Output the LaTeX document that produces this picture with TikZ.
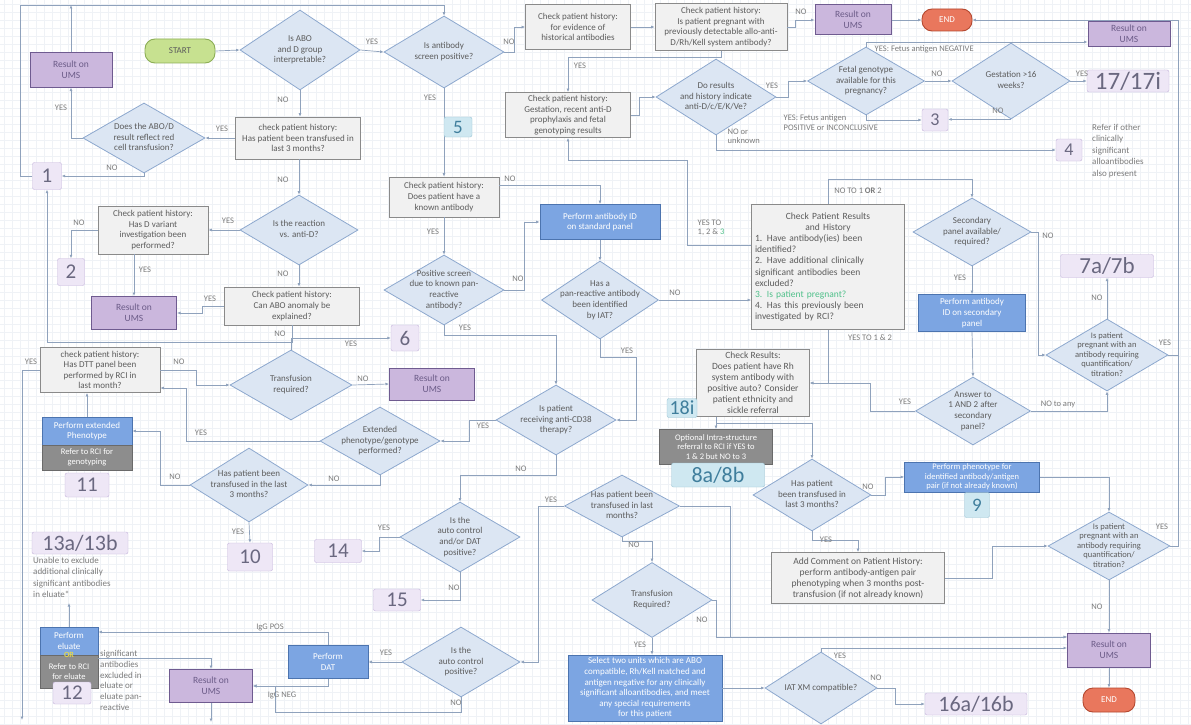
\documentclass[tikz,border=0pt]{standalone}
\usepackage{fontspec}
\setmainfont{Carlito}
\usetikzlibrary{shapes.geometric,arrows.meta}

\definecolor{decfill}{HTML}{DCE6F3}
\definecolor{decline}{HTML}{8DA8CE}
\definecolor{procfill}{HTML}{F1F1F1}
\definecolor{procline}{HTML}{8A8A8A}
\definecolor{umsfill}{HTML}{CBB7DD}
\definecolor{umsline}{HTML}{6F5B90}
\definecolor{umstext}{HTML}{6C5C88}
\definecolor{actfill}{HTML}{7CA5E2}
\definecolor{actline}{HTML}{4C74AF}
\definecolor{reffill}{HTML}{8D8D8D}
\definecolor{refline}{HTML}{6A6A6A}
\definecolor{tagfill}{HTML}{EEE7F6}
\definecolor{tagline}{HTML}{C4B3DB}
\definecolor{tagtext}{HTML}{6A6880}
\definecolor{cyanfill}{HTML}{CFE8F1}
\definecolor{cyanline}{HTML}{9CC5D5}
\definecolor{cyantext}{HTML}{3F7E9C}
\definecolor{startfill}{HTML}{C7E190}
\definecolor{startline}{HTML}{8CAE55}
\definecolor{endfill}{HTML}{E9775D}
\definecolor{endline}{HTML}{B4482F}
\definecolor{link}{HTML}{8FA2BC}
\definecolor{txt}{HTML}{5C5C5C}
\definecolor{lbltxt}{HTML}{7C7C7C}
\definecolor{gridc}{HTML}{EFF2F6}
\definecolor{okgreen}{HTML}{4FC08A}
\definecolor{oryel}{HTML}{E6D94B}

\newcommand{\dtxt}[1]{\makebox[0pt]{\raisebox{-2.3pt}[0pt][0pt]{\begin{tabular}{@{}c@{}}#1\end{tabular}}}}

\tikzset{
  every node/.style={font=\fontsize{9}{10.6}\selectfont, text=txt},
  wh/.style 2 args={minimum width=#1pt, minimum height=#2pt},
  dec/.style={diamond, draw=decline, fill=decfill, line width=0.8pt, inner sep=0pt},
  proc/.style={rectangle, draw=procline, fill=procfill, line width=0.8pt, align=center, inner sep=1pt},
  ums/.style={rectangle, draw=umsline, fill=umsfill, line width=1pt, align=center, text=umstext, font=\fontsize{9.5}{11}\selectfont},
  act/.style={rectangle, draw=actline, fill=actfill, line width=0.8pt, align=center, text=white, inner sep=1pt},
  refer/.style={rectangle, draw=refline, fill=reffill, line width=0.8pt, align=center, text=white, inner sep=1pt},
  tag/.style={rectangle, rounded corners=2pt, draw=tagline, fill=tagfill, text=tagtext, inner sep=0pt, font=\fontsize{21}{21}\selectfont},
  cyantag/.style={rectangle, rounded corners=2pt, draw=cyanline, fill=cyanfill, text=cyantext, inner sep=0pt, font=\fontsize{19}{19}\selectfont},
  term/.style={rectangle, rounded corners=10pt, line width=0.9pt, font=\fontsize{9}{10}\selectfont},
  lbl/.style={font=\fontsize{8.5}{9.5}\selectfont, text=lbltxt, inner sep=0.5pt},
  note/.style={align=left, text=lbltxt, inner sep=0pt, anchor=north west, font=\fontsize{9}{11.5}\selectfont},
  ln/.style={draw=link, line width=0.7pt},
  arr/.style={ln, -{Latex[length=3.5pt,width=3pt]}},
}

\begin{document}
\begin{tikzpicture}[x=1pt,y=-1pt]
	\useasboundingbox (0,0) rectangle (1191,725);
	\fill[white] (0,0) rectangle (1191,725);
	\foreach \g in {4,12,...,1188} \draw[gridc, line width=0.4pt] (\g,0) -- (\g,725);
	\foreach \g in {4,12,...,724} \draw[gridc, line width=0.4pt] (0,\g) -- (1191,\g);

	% terminals
	\node[term, draw=startline, fill=startfill, wh={70}{24}] (start) at (180,51) {START};
	\node[term, draw=endline, fill=endfill, text=white, wh={50}{22}] (end1) at (947,20) {END};
	\node[term, draw=endline, fill=endfill, text=white, wh={52}{24}] (end2) at (1109,700) {END};

	% decisions
	\node[dec, wh={120}{80}] (d1) at (300,50) {\dtxt{Is ABO\\and D group\\interpretable?}};
	\node[dec, wh={120}{72}] (d2) at (444,52) {\dtxt{Is antibody\\screen positive?}};
	\node[dec, wh={122}{70}] (d3) at (144,138) {\dtxt{Does the ABO/D\\result reflect red\\cell transfusion?}};
	\node[dec, wh={118}{70}] (d4) at (299,230) {\dtxt{Is the reaction\\vs. anti-D?}};
	\node[dec, wh={120}{70}] (dpos) at (444,290) {\dtxt{Positive screen\\due to known pan-\\reactive\\antibody?}};
	\node[dec, wh={120}{76}] (danti) at (716,97) {\dtxt{Do results\\and history indicate\\anti-D/c/E/K/Ve?}};
	\node[dec, wh={117}{68}] (dfetal) at (866,81) {\dtxt{Fetal genotype\\available for this\\pregnancy?}};
	\node[dec, wh={118}{76}] (dgest) at (1011,81) {\dtxt{Gestation >16\\weeks?}};
	\node[dec, wh={117}{78}] (dpan) at (600,300) {\dtxt{Has a\\pan-reactive antibody\\been identified\\by IAT?}};
	\node[dec, wh={118}{68}] (dsec) at (972,232) {\dtxt{Secondary\\panel available/\\required?}};
	\node[dec, wh={122}{72}, font=\fontsize{8.5}{9.6}\selectfont] (dq1) at (1107,355) {\dtxt{Is patient\\pregnant with an\\antibody requiring\\quantification/\\titration?}};
	\node[dec, wh={115}{68}] (dans) at (973,411) {\dtxt{Answer to\\1 AND 2 after\\secondary\\panel?}};
	\node[dec, wh={122}{70}] (d5) at (291,385) {\dtxt{Transfusion\\required?}};
	\node[dec, wh={120}{68}] (d6) at (380,441) {\dtxt{Extended\\phenotype/genotype\\performed?}};
	\node[dec, wh={120}{70}] (d8) at (556,420) {\dtxt{Is patient\\receiving anti-CD38\\therapy?}};
	\node[dec, wh={118}{74}] (d7) at (249,485) {\dtxt{Has patient been\\transfused in the last\\3 months?}};
	\node[dec, wh={120}{70}] (d9) at (460,537) {\dtxt{Is the\\auto control\\and/or DAT\\positive?}};
	\node[dec, wh={118}{70}] (d10) at (461,662) {\dtxt{Is the\\auto control\\positive?}};
	\node[dec, wh={115}{62}] (d11) at (622,506) {\dtxt{Has patient been\\transfused in last\\months?}};
	\node[dec, wh={120}{75}] (d12) at (652,600) {\dtxt{Transfusion\\Required?}};
	\node[dec, wh={112}{72}] (d13) at (821,688) {\dtxt{IAT XM compatible?}};
	\node[dec, wh={118}{72}] (d15) at (812,495) {\dtxt{Has patient\\been transfused in\\last 3 months?}};
	\node[dec, wh={122}{68}, font=\fontsize{8.5}{9.6}\selectfont] (d14) at (1109,546) {\dtxt{Is patient\\pregnant with an\\antibody requiring\\quantification/\\titration?}};

	% checks
	\node[proc, wh={125}{42}] (transf) at (298,138) {check patient history:\\Has patient been transfused in\\last 3 months?};
	\node[proc, wh={110}{48}] (variant) at (153,230) {Check patient history:\\Has D variant\\investigation been\\performed?};
	\node[proc, wh={135}{38}] (abo) at (292,306) {Check patient history:\\Can ABO anomaly be\\explained?};
	\node[proc, wh={120}{45}] (dtt) at (100,370) {check patient history:\\Has DTT panel been\\performed by RCI in\\last month?};
	\node[proc, wh={110}{40}] (known) at (444,197) {Check patient history:\\Does patient have a\\known antibody};
	\node[proc, wh={105}{45}] (hist) at (578,27) {Check patient history:\\for evidence of\\historical antibodies};
	\node[proc, wh={132}{47}] (preg) at (721,27) {Check patient history:\\Is patient pregnant with\\previously detectable allo-anti-\\D/Rh/Kell system antibody?};
	\node[proc, wh={125}{45}] (gest) at (568,115) {Check patient history:\\Gestation, recent anti-D\\prophylaxis and fetal\\genotyping results};
	\node[proc, wh={153}{125}, align=left, text width=146pt, font=\fontsize{9.5}{11.2}\selectfont] (results) at (828,267)
		{\makebox[146pt]{Check Patient Results}\\\makebox[146pt]{and History}\\1. Have antibody(ies) been\\identified?\\2. Have additional clinically\\significant antibodies been\\excluded?\\\textcolor{okgreen}{3. Is patient pregnant?}\\4. Has this previously been\\investigated by RCI?};
	\node[proc, wh={113}{67}, font=\fontsize{9.5}{11}\selectfont] (checkres) at (753,383) {Check Results:\\Does patient have Rh\\system antibody with\\positive auto? Consider\\patient ethnicity and\\sickle referral};
	\node[proc, wh={173}{51}, font=\fontsize{9.5}{11}\selectfont] (comment) at (858,578) {Add Comment on Patient History:\\perform antibody-antigen pair\\phenotyping when 3 months post-\\transfusion (if not already known)};

	% results on UMS
	\node[ums, wh={82}{34}] (res1) at (71,70) {Result on\\UMS};
	\node[ums, wh={76}{30}] (restop) at (853,20) {Result on\\UMS};
	\node[ums, wh={82}{25}] (restr) at (1129,34) {Result on\\UMS};
	\node[ums, wh={85}{33}] (res2) at (134,313) {Result on\\UMS};
	\node[ums, wh={85}{32}] (res3) at (432,384) {Result on\\UMS};
	\node[ums, wh={83}{33}] (res4) at (211,686) {Result on\\UMS};
	\node[ums, wh={83}{34}] (res5) at (1109,650) {Result on\\UMS};

	% actions
	\node[act, wh={120}{35}] (abid) at (600,222) {Perform antibody ID\\on standard panel};
	\node[act, wh={107}{37}] (absec) at (972,313) {Perform antibody\\ID on secondary\\panel};
	\node[act, wh={135}{30}, font=\fontsize{8.5}{9.5}\selectfont] (phen) at (972,477) {Perform phenotype for\\identified antibody/antigen\\pair (if not already known)};
	\node[act, wh={90}{28}] (extph) at (87,431) {Perform extended\\Phenotype};
	\node[act, wh={80}{33}] (dat) at (328,662) {Perform\\DAT};
	\node[act, wh={58}{28}] (elu) at (69,641) {Perform\\eluate};
	\node[act, wh={154}{66}] (select) at (645,688) {Select two units which are ABO\\compatible, Rh/Kell matched and\\antigen negative for any clinically\\significant alloantibodies, and meet\\any special requirements\\for this patient};

	% referrals
	\node[refer, wh={90}{25}, font=\fontsize{8.5}{9.5}\selectfont] (refgen) at (87,457.5) {Refer to RCI for\\genotyping};
	\node[refer, wh={58}{33}, font=\fontsize{8.5}{9.5}\selectfont] (refelu) at (69,671.5) {Refer to RCI\\for eluate};
	\node[refer, wh={113}{35}, font=\fontsize{8.5}{9.8}\selectfont] (optref) at (716,447) {Optional Intra-structure\\referral to RCI if YES to\\1 \& 2 but NO to 3};
	\node[font=\bfseries\fontsize{8}{8}\selectfont, text=oryel, inner sep=0pt] (ortxt) at (69,655) {OR};

	% numbered tags
	\node[tag, wh={29}{27}] (t1) at (47,176) {1};
	\node[tag, wh={27}{27}] (t2) at (71,272) {2};
	\node[tag, wh={26}{22}, font=\fontsize{18}{18}\selectfont] (t3) at (935,120) {3};
	\node[tag, wh={26}{22}, font=\fontsize{18}{18}\selectfont] (t4) at (1069,150) {4};
	\node[tag, wh={28}{26}] (t6) at (405,338) {6};
	\node[tag, wh={93}{23}, font=\fontsize{23}{23}\selectfont] (t7) at (1107,266) {7a/7b};
	\node[tag, wh={45}{28}] (t10) at (250,557) {10};
	\node[tag, wh={44}{24}] (t11) at (87,485) {11};
	\node[tag, wh={38}{22}] (t12) at (72,693) {12};
	\node[tag, wh={96}{22}, font=\fontsize{22}{22}\selectfont] (t13) at (80,543) {13a/13b};
	\node[tag, wh={47}{23}] (t14) at (338,551) {14};
	\node[tag, wh={47}{22}] (t15) at (397,600) {15};
	\node[tag, wh={102}{22}, font=\fontsize{22}{22}\selectfont] (t16) at (976,704) {16a/16b};
	\node[tag, wh={82}{22}, font=\fontsize{25}{25}\selectfont] (t17) at (1128,81) {17/17i};
	\node[cyantag, wh={25}{25}] (t9) at (977,505) {9};
	\node[cyantag, wh={93}{24}, font=\fontsize{22}{22}\selectfont] (t8) at (718,475) {8a/8b};
	\node[cyantag, wh={30}{19}, font=\fontsize{20}{20}\selectfont] (t18) at (682,408) {18i};

	% notes
	\node[note] (note4) at (1092,124) {Refer if other\\clinically\\significant\\alloantibodies\\also present};
	\node[note] (note13) at (33,557) {Unable to exclude\\additional clinically\\significant antibodies\\in eluate*};
	\node[note, font=\fontsize{9}{10.8}\selectfont] (note12) at (100,650) {significant\\antibodies\\excluded in\\eluate or\\eluate pan-\\reactive};

	% connectors
	\coordinate (rail) at (1178,20);
	\draw[arr] (start.east) -- (d1.west);
	\draw[arr] (d1.east) -- (d2.west);
	\draw[arr] (d1.south) -- (d1.south |- transf.north);
	\draw[arr] (d2.east) -- ++(10,0) |- (hist.west);
	\draw[arr] (d2.south) -- (known.north);
	\draw[arr] (hist.east) -- (preg.west);
	\draw[arr] (preg.east) -- ++(8,0) |- (restop.west);
	\draw[arr] (restop.east) -- (end1.west);
	\draw[arr] (preg.south) |- (gest.north |- 0,57) -- (gest.north);
	\draw[arr] (gest.east) -- ++(8,0) |- (danti.west);
	\draw[arr] (danti.east) -- ++(12,0) |- (dfetal.west);
	\draw[arr] (danti.south) |- (t4.west);
	\draw[arr] (dfetal.north) |- ([yshift=-8pt]restr.west);
	\draw[arr] (dfetal.south) |- (t3.west);
	\draw[arr] (dfetal.east) -- (dgest.west);
	\draw[arr] (dgest.east) -- (t17.west);
	\draw[arr] (dgest.south) -- (dgest.south -| t3.east);
	\draw[arr] (res1.north) -- (res1.north |- 0,5);
	\draw[arr] (t1.west) -| (20,5) -| (d2.north);
	\draw[arr] (d3.west) -| (res1.south);
	\draw[arr] (d3.south) |- (t1.east);
	\draw[arr] (transf.west) -- (d3.east);
	\draw[arr] (transf.south -| d4.north) -- (d4.north);
	\draw[arr] (d4.west) -- (variant.east);
	\draw[arr] (variant.west) -| (t2.north);
	\draw[arr] (variant.south -| res2.north) -- (res2.north);
	\draw[arr] (d4.south) -- (d4.south |- abo.north);
	\draw[arr] (abo.west) -- ++(-22,0) |- (res2.east);
	\draw[arr] (abo.south) -- ++(0,17) -| (t1.south);
	\draw[arr] (dtt.west) -| (22,720);
	\draw[arr] (dtt.east) -- ++(36,0) |- (d5.west);
	\draw[arr] (d5.north) |- (t6.west);
	\draw[arr] (d5.east) -- (res3.west);
	\draw[arr] (d6.west) -| (186,388) -- (dtt.east |- 0,388);
	\draw[arr] (d6.south) |- (d7.east);
	\draw[arr] (d7.west) -| (160,431) -- (extph.east);
	\draw[arr] (d7.south) -- (t10.north);
	\draw[arr] (extph.north) -- (extph.north |- dtt.south);
	\draw[arr] (d8.west) -- ++(-26,0) |- (d6.east);
	\draw[arr] (d8.south) -- ++(0,20) -| (d9.north);
	\draw[arr] (dpos.south) -- ++(0,10) -| (d8.north);
	\draw[arr] (dpos.east) -- ++(20,0) |- (abid.west);
	\draw[arr] ([yshift=12pt]known.east) -| (abid.north);
	\draw[arr] (known.south) -- (dpos.north);
	\draw[arr] (abid.south) -- (dpan.north);
	\draw[arr] (dpan.east) -- (dpan.east -| results.west);
	\draw[arr] (dpan.south) -- ++(0,18) -| (636,420) -- (d8.east);
	\draw[arr] ([yshift=22pt]results.west) -- (687,245) |- (gest.south |- 0,160) -- (gest.south);
	\draw[arr] (results.north) -- ++(0,-25) -| (dsec.north);
	\draw[arr] (dsec.south) -- (absec.north);
	\draw[arr] (absec.south) -- (dans.north);
	\draw[arr] (dsec.east) -- ++(7,0) |- (dq1.west);
	\draw[arr] (dq1.north) -- (t7.south);
	\draw[arr] (dq1.east) -| (rail) -- (end1.east);
	\draw[ln] (d14.east) -| (dq1.east -| rail);
	\draw[arr] (dans.east) -| (dq1.south);
	\draw[arr] (dans.west) -- ++(-45,0) |- (checkres.east);
	\draw[arr] (results.south) |- (checkres.east);
	\draw[arr] (checkres.south -| optref.north) -- (optref.north);
	\draw[arr] (checkres.south -| optref.north) -- ++(0,6) -| (d15.north);
	\draw[arr] (d15.east) -- ++(14,0) |- (phen.west);
	\draw[arr] (d15.south) -- ++(0,9) -| (comment.north);
	\draw[arr] (phen.east) -| (d14.north);
	\draw[arr] (comment.east) -- ++(47,0) |- (d14.west);
	\draw[arr] (d14.south) -- (res5.north);
	\draw[arr] (res5.south) -- (end2.north);
	\draw[arr] (d13.north) |- ([yshift=2pt]res5.west);
	\draw[arr] (d12.east) -- ++(4,0) |- ([yshift=13pt]res5.west);
	\draw[arr] (d11.east) -- ++(50,0) |- ([yshift=13pt]res5.west);
	\draw[arr] (d13.east) -- ++(18,0) |- (t16.west);
	\draw[arr] (select.east) -- (d13.west);
	\draw[arr] (d12.south) -- (d12.south |- select.north);
	\draw[arr] (d11.south) -- ++(0,4) -| (d12.north);
	\draw[arr] (d11.west) -- (538,506) |- (d10.east);
	\draw[arr] (d9.west) -- ++(-20,0) |- (t14.east);
	\draw[arr] (d9.south) |- (t15.east);
	\draw[arr] (d10.west) -- (dat.east);
	\draw[arr] (dat.north) |- ([yshift=9pt]elu.east);
	\draw[arr] (dat.south) |- (res4.east);
	\draw[arr] (d10.south) |- (275,712) |- (res4.east);
	\draw[arr] ([yshift=13pt]refelu.east) -| (res4.north);
	\draw[arr] (elu.north) -- (elu.north |- 0,603);
	\draw[arr] (res4.south) -- (res4.south |- 0,722);

	\node[cyantag, wh={28}{20}] (t5) at (458,127) {5};

	% branch labels
	\node[lbl] (ly1) at (372,42) {YES};
	\node[lbl] (ln1) at (283,100) {NO};
	\node[lbl] (ln2) at (509,42) {NO};
	\node[lbl] (ly2) at (430,98) {YES};
	\node[lbl] (ln3) at (801,12) {NO};
	\node[lbl] (ly3) at (580,66) {YES};
	\node[lbl] (ly4) at (772,86) {YES};
	\node[lbl, align=left, anchor=north west] (ln4) at (727,128) {NO or\\unknown};
	\node[lbl, anchor=west] (lneg) at (874,49) {YES: Fetus antigen NEGATIVE};
	\node[lbl, align=left, anchor=north west] (lpos) at (783,114) {YES: Fetus antigen\\POSITIVE or INCONCLUSIVE};
	\node[lbl] (ln5) at (937,74) {NO};
	\node[lbl] (ly5) at (1082,74) {YES};
	\node[lbl] (ln6) at (998,111) {NO};
	\node[lbl] (ly6) at (61,108) {YES};
	\node[lbl] (ln7) at (112,168) {NO};
	\node[lbl] (ly7) at (222,129) {YES};
	\node[lbl] (ln8) at (283,180) {NO};
	\node[lbl] (ly8) at (228,221) {YES};
	\node[lbl] (ln9) at (79,223) {NO};
	\node[lbl] (ly9) at (145,270) {YES};
	\node[lbl] (ln10) at (283,274) {NO};
	\node[lbl] (ly10) at (210,299) {YES};
	\node[lbl] (ln11) at (280,334) {NO};
	\node[lbl] (ly11) at (31,362) {YES};
	\node[lbl] (ln12) at (179,362) {NO};
	\node[lbl] (ly12) at (351,344) {YES};
	\node[lbl] (ln13) at (363,379) {NO};
	\node[lbl] (ly13) at (201,433) {YES};
	\node[lbl] (ln14) at (334,479) {NO};
	\node[lbl] (ln15) at (175,477) {NO};
	\node[lbl] (ly14) at (238,532) {YES};
	\node[lbl] (ly15) at (483,426) {YES};
	\node[lbl] (ln16) at (521,469) {NO};
	\node[lbl] (ly16) at (465,328) {YES};
	\node[lbl] (ln17) at (518,279) {NO};
	\node[lbl] (ln18) at (510,179) {NO};
	\node[lbl] (ly17) at (433,232) {YES};
	\node[lbl] (ln19) at (675,293) {NO};
	\node[lbl] (ly18) at (627,351) {YES};
	\node[lbl, align=left] (lyes123) at (711,228) {YES TO\\1, 2 \& \textcolor{okgreen}{3}};
	\node[lbl] (lno12) at (858,191) {NO TO 1 \textbf{OR} 2};
	\node[lbl] (ly19) at (960,278) {YES};
	\node[lbl] (ln20) at (1048,236) {NO};
	\node[lbl] (ln21) at (1097,298) {NO};
	\node[lbl] (ly20) at (1165,343) {YES};
	\node[lbl] (lnany) at (1058,404) {NO to any};
	\node[lbl] (ly21) at (905,402) {YES};
	\node[lbl] (lyes12) at (870,338) {YES TO 1 \& 2};
	\node[lbl] (ln22) at (868,487) {NO};
	\node[lbl] (ly22) at (826,540) {YES};
	\node[lbl] (ln23) at (1097,607) {NO};
	\node[lbl] (ly23) at (1162,527) {YES};
	\node[lbl] (ly24) at (840,656) {YES};
	\node[lbl] (ln24) at (702,620) {NO};
	\node[lbl] (ln25) at (876,678) {NO};
	\node[lbl] (ln26) at (634,545) {NO};
	\node[lbl] (ly25) at (551,500) {YES};
	\node[lbl] (ly26) at (640,645) {YES};
	\node[lbl] (ly27) at (384,528) {YES};
	\node[lbl] (ln27) at (454,588) {NO};
	\node[lbl] (ly28) at (386,653) {YES};
	\node[lbl] (lpos2) at (270,627) {IgG POS};
	\node[lbl] (lneg2) at (282,695) {IgG NEG};
	\node[lbl] (ln28) at (456,703) {NO};
\end{tikzpicture}
\end{document}
